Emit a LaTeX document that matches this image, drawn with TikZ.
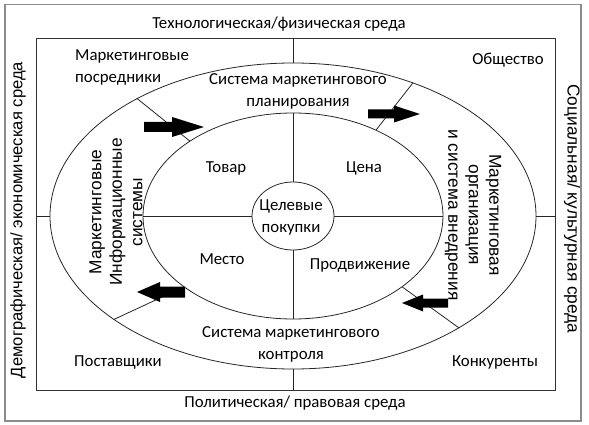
\documentclass[tikz,border=0pt]{standalone}
\usepackage{fontspec}
\setmainfont{Carlito}
\newfontfamily\arialf{Liberation Sans}
\usetikzlibrary{shapes.geometric}
\begin{document}
\begin{tikzpicture}[x=1pt,y=-1pt,
  line/.style={draw=black!85, line width=0.8pt},
  lbl/.style={font=\fontsize{16.8}{22}\selectfont, align=center, inner sep=0},
  vlbl/.style={font=\arialf\fontsize{17.3}{20.5}\selectfont, align=center, inner sep=0},
  ring/.style={ellipse, draw=black!85, line width=0.8pt, inner sep=0},
  blk/.style={fill=black}]
\useasboundingbox (0,0) rectangle (589,425);
\node[draw=black!45, line width=1.5pt, minimum width=576pt, minimum height=416pt, inner sep=0, anchor=north west] (frame) at (4,4) {};
\node[draw=black!80, line width=1pt, minimum width=519pt, minimum height=352pt, inner sep=0, anchor=north west] (env) at (36,38) {};
\node[ring, minimum width=486pt, minimum height=306pt] (outer) at (293,216) {};
\node[ring, minimum width=300pt, minimum height=206pt] (middle) at (293,216) {};
\node[ring, minimum width=82pt, minimum height=68pt] (inner) at (293,216) {};
% radial segments
\draw[line] (outer.north |- env.north) -- (outer.north);
\draw[line] (middle.north) -- (inner.north);
\draw[line] (inner.south) -- (middle.south);
\draw[line] (outer.south) -- (outer.south |- env.south);
\draw[line] (outer.west -| env.west) -- (outer.west);
\draw[line] (middle.west) -- (inner.west);
\draw[line] (inner.east) -- (middle.east);
\draw[line] (outer.east) -- (outer.east -| env.east);
% diagonal segments
\draw[line] (outer.143) -- (middle.144);
\draw[line] (outer.48) -- (middle.46);
\draw[line] (outer.210) -- (middle.213);
\draw[line] (outer.326) -- (middle.327);
% block arrows
\fill[blk] (144,122) -- (172,122) -- (172,117) -- (204,127) -- (172,137) -- (172,132) -- (144,132) -- cycle;
\fill[blk] (368,109.5) -- (394,109.5) -- (394,105.5) -- (420,114) -- (394,122.5) -- (394,118.5) -- (368,118.5) -- cycle;
\fill[blk] (185,286.5) -- (160,286.5) -- (160,282) -- (137,292) -- (160,302) -- (160,297.5) -- (185,297.5) -- cycle;
\fill[blk] (448,298.5) -- (423,298.5) -- (423,294.5) -- (402,303) -- (423,311.5) -- (423,307.5) -- (448,307.5) -- cycle;
% labels
\node[lbl] (tech) at (279,24) {Технологическая/физическая среда};
\node[lbl] (polit) at (295,403) {Политическая/ правовая среда};
\node[lbl, align=left, anchor=west] (posr) at (75,67) {Маркетинговые\\посредники};
\node[lbl] (obsh) at (508,60) {Общество};
\node[lbl] (plan) at (298,91) {Система маркетингового\\планирования};
\node[lbl] (kontr) at (291,344) {Система маркетингового\\контроля};
\node[lbl] (tovar) at (226,168) {Товар};
\node[lbl] (cena) at (364,168) {Цена};
\node[lbl] (mesto) at (222,259) {Место};
\node[lbl] (prod) at (360,265) {Продвижение};
\node[lbl] (cel) at (291,217) {Целевые\\покупки};
\node[lbl] (post) at (118,362) {Поставщики};
\node[lbl] (konk) at (495,362) {Конкуренты};
\node[vlbl, rotate=90] (mis) at (116,212) {Маркетинговые\\Информационные\\системы};
\node[vlbl, rotate=-90] (mos) at (473,215) {Маркетинговая\\организация\\и система внедрения};
\node[vlbl, rotate=90, font=\arialf\fontsize{16.6}{20}\selectfont] (demo) at (18,220) {Демографическая/ экономическая среда};
\node[vlbl, rotate=-90] (soc) at (572,209) {Социальная/ культурная среда};
\end{tikzpicture}
\end{document}
